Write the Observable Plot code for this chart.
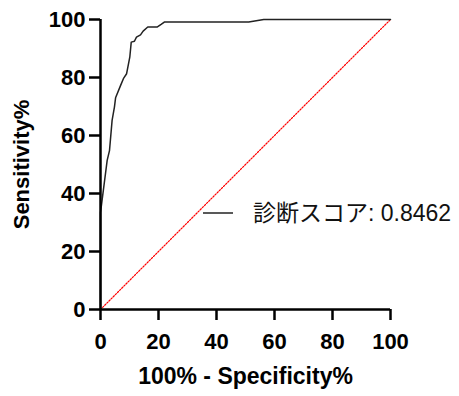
<!DOCTYPE html>
<html><head><meta charset="utf-8">
<script src="https://cdn.jsdelivr.net/npm/d3@7"></script>
<script src="https://cdn.jsdelivr.net/npm/@observablehq/plot@0.6"></script>
<style>
body{margin:0;background:#fff;}
#chart svg{display:block;}
</style>
</head><body><div id="chart"></div>
<script>
const fpr = [0,0,2.3,3.1,4.0,4.8,5.2,6.9,8.0,9.0,10.1,10.6,11.7,12.4,13.8,14.7,16.3,19.5,20.9,22.0,51.1,56.3,100];
const tpr = [0,33.4,51.4,54.8,65.2,69.8,73,77.2,79.8,81.3,87,92.2,92.5,93.9,94.7,96,97.4,97.4,98.3,99.1,99.1,100,100];
const diagX = [0,100];
const diagY = [0,100];
const ticks = [0,20,40,60,80,100];
const legendLabel = "診断スコア: 0.8462";
const xTitle = "100% - Specificity%";
const yTitle = "Sensitivity%";

const roc = fpr.map((x,i)=>({x, y:tpr[i]}));
const diag = diagX.map((x,i)=>({x, y:diagY[i]}));

const legendMark = (...args) => {
  const dims = args.find(a => a && typeof a === "object" && "marginLeft" in a) || {marginLeft:100, marginTop:19};
  const g = d3.create("svg:g");
  const lx = dims.marginLeft + 103, ly = dims.marginTop + 194;
  g.append("line").attr("x1", lx).attr("x2", lx+30).attr("y1", ly).attr("y2", ly)
    .attr("stroke", "#222").attr("stroke-width", 1.5);
  g.append("text").attr("x", lx+50).attr("y", ly).attr("dy", "0.36em")
    .attr("text-anchor", "start")
    .attr("font-family", "'Liberation Sans', Arial, 'Noto Sans CJK JP', sans-serif")
    .attr("font-size", 23).attr("fill", "#111").text(legendLabel);
  return g.node();
};

const chart = Plot.plot({
  width: 459, height: 396,
  marginLeft: 100, marginRight: 69, marginTop: 19, marginBottom: 87,
  x: {domain: [0,100]},
  y: {domain: [0,100]},
  style: {fontFamily: "'Liberation Sans', Arial, sans-serif", color: "#000", background: "#fff"},
  marks: [
    Plot.line(diag, {x:"x", y:"y", stroke:"red", strokeWidth:1.2, strokeDasharray:"1.5,1.5"}),
    Plot.line(roc, {x:"x", y:"y", stroke:"#222", strokeWidth:1.5}),
    Plot.ruleY([0], {strokeWidth:2.5, stroke:"#000"}),
    Plot.ruleX([0], {strokeWidth:2.5, stroke:"#000"}),
    Plot.axisX({ticks, tickSize:11, tickPadding:13, strokeWidth:2.5, fontSize:22, fontWeight:"bold", label:null}),
    Plot.axisX({ticks:[], label: xTitle, labelAnchor:"center", labelArrow:"none", labelOffset:74, fontSize:23, fontWeight:"bold"}),
    Plot.axisY({ticks, tickSize:11, tickPadding:4, strokeWidth:2.5, fontSize:22, fontWeight:"bold", label:null}),
    Plot.axisY({ticks:[], label: yTitle, labelAnchor:"center", labelArrow:"none", labelOffset:87, fontSize:22, fontWeight:"bold"}),
    legendMark
  ]
});
document.getElementById("chart").appendChild(chart);
</script>
</body></html>
